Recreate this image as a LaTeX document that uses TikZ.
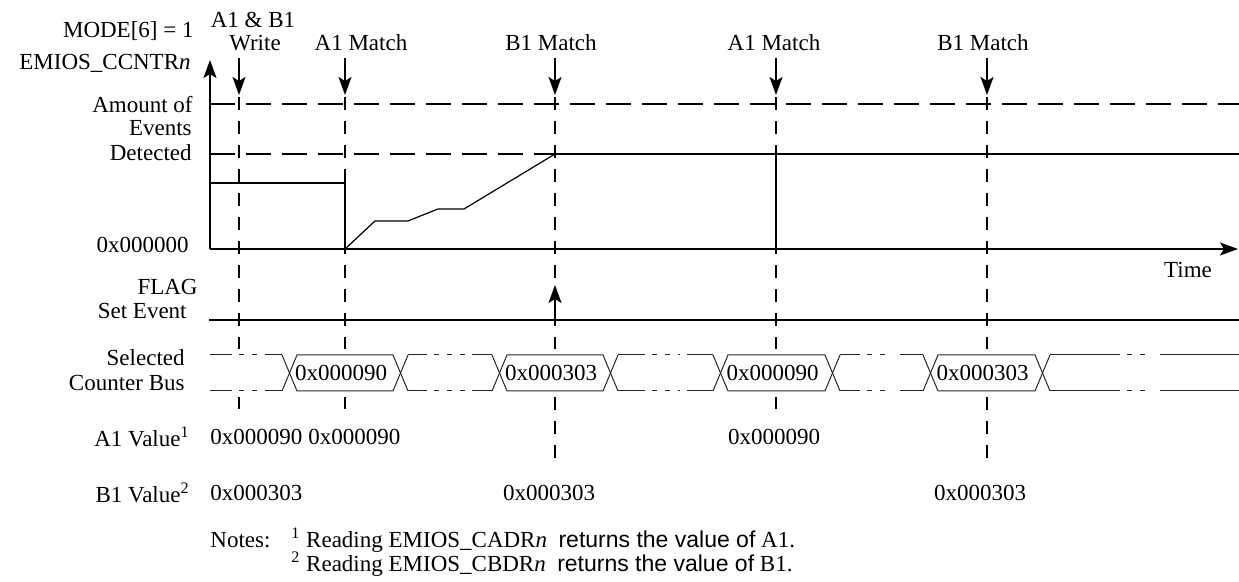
\documentclass[tikz,border=0pt]{standalone}
\usepackage{fontspec}
\setmainfont{Liberation Serif}
\setsansfont{Liberation Sans}
\usetikzlibrary{arrows.meta}
\tikzset{
  lbl/.style={font=\fontsize{11.5}{13}\selectfont, inner sep=0pt},
  note/.style={font=\fontsize{11.5}{13}\selectfont, inner sep=0pt, anchor=west},
  sig/.style={line width=1pt},
  ramp/.style={line width=0.6pt},
  guide/.style={line width=1pt, dash pattern=on 6.5pt off 5.5pt},
  level/.style={line width=1pt, dash pattern=on 12.5pt off 5.5pt},
  busln/.style={line width=0.5pt, black!85},
  busdash/.style={busln, dash pattern=on 2.5pt off 4pt},
  marker/.style={-{Stealth[length=9pt,width=6.5pt,inset=2pt]}, line width=1pt}
}
\begin{document}
\begin{tikzpicture}[x=0.5pt, y=-0.5pt]
  \useasboundingbox (0,0) rectangle (1239,582);
  \node[lbl, anchor=east] (mode) at (194,31) {MODE[6] = 1};
  \node[lbl, anchor=east] (ccntr) at (191,63) {EMIOS\_CCNTR\textit{n}};
  \node[lbl] (wra) at (253,20) {A1 \& B1};
  \node[lbl] (wrb) at (255,43) {Write};
  \node[lbl] (ma) at (361,43) {A1 Match};
  \node[lbl] (mb) at (551,43) {B1 Match};
  \node[lbl] (mc) at (774,43) {A1 Match};
  \node[lbl] (md) at (983,43) {B1 Match};
  \node[lbl, anchor=east] (amt) at (193,105) {Amount of};
  \node[lbl, anchor=east] (evt) at (192,128) {Events};
  \node[lbl, anchor=east] (det) at (192,153) {Detected};
  \node[lbl, anchor=east] (zero) at (189,245) {0x000000};
  \node[lbl] (time) at (1188,270) {Time};
  \node[lbl, anchor=east] (flag) at (198,287) {FLAG};
  \node[lbl, anchor=east] (setev) at (187,311) {Set Event};
  \node[lbl, anchor=east] (sel) at (185,358) {Selected};
  \node[lbl, anchor=east] (cbus) at (185,383) {Counter Bus};
  \node[lbl, anchor=east] (aval) at (190,437) {A1 Value\textsuperscript{1}};
  \node[lbl, anchor=east] (bval) at (190,493) {B1 Value\textsuperscript{2}};
  \node[lbl, anchor=west] (aa) at (210,437) {0x000090};
  \node[lbl, anchor=west] (ab) at (308,437) {0x000090};
  \node[lbl] (ac) at (774,437) {0x000090};
  \node[lbl, anchor=west] (ba) at (210,493) {0x000303};
  \node[lbl] (bb) at (549,493) {0x000303};
  \node[lbl] (bc) at (980,493) {0x000303};
  \node[note] (notes) at (210,540) {Notes:};
  \node[note] (na) at (291,540) {\textsuperscript{1} Reading EMIOS\_CADR\textit{n} \ {\sffamily returns the value of} A1.};
  \node[note] (nb) at (291,564) {\textsuperscript{2} Reading EMIOS\_CBDR\textit{n} \ {\sffamily returns the value of} B1.};
  \foreach \x/\y in {239/409, 345/409, 555/465, 776/409, 987/465} {
    \draw[guide] (\x,97) -- (\x,349);
    \draw[guide] (\x,397) -- (\x,\y);
  }
  \draw[level] (210,104) -- (1239,104);
  \draw[level] (210,154) -- (555,154);
  \draw[marker] (239,58) -- (239,95);
  \draw[marker] (345,58) -- (345,95);
  \draw[marker] (555,58) -- (555,95);
  \draw[marker] (776,58) -- (776,95);
  \draw[marker] (987,58) -- (987,95);
  \draw[marker] (210,249) -- (210,60);
  \draw[marker] (210,249) -- (1238,249);
  \draw[sig] (210,183) -- (345,183) -- (345,249);
  \draw[ramp] (345,249) -- (375,221) -- (408,221) -- (438,209) -- (464,209) -- (555,154);
  \draw[sig] (555,154) -- (1239,154);
  \draw[sig] (776,154) -- (776,249);
  \draw[sig] (209,320) -- (1239,320);
  \draw[marker] (555,320) -- (555,285);
  \foreach \a/\b/\c/\d in {210/232/265/282, 408/427/472/492, 618/645/687/713, 840/860/900/923, 1050/1120/1160/1239}
    \foreach \y in {355,391} {
      \draw[busln] (\a,\y) -- (\b,\y);
      \draw[busln] (\c,\y) -- (\d,\y);
      \draw[busdash] (\b+7,\y) -- (\c-7,\y);
    }
  \foreach \a/\b/\v [count=\i] in {297/393/0x000090, 507/603/0x000303, 728/825/0x000090, 938/1035/0x000303} {
    \draw[busln] (\a-15,355) -- (\a,391) -- (\b,391) -- (\b+15,355);
    \draw[busln] (\a-15,391) -- (\a,355) -- (\b,355) -- (\b+15,391);
    \node[lbl] (val\i) at ({(\a+\b)/2-4},373) {\v};
  }
\end{tikzpicture}
\end{document}
